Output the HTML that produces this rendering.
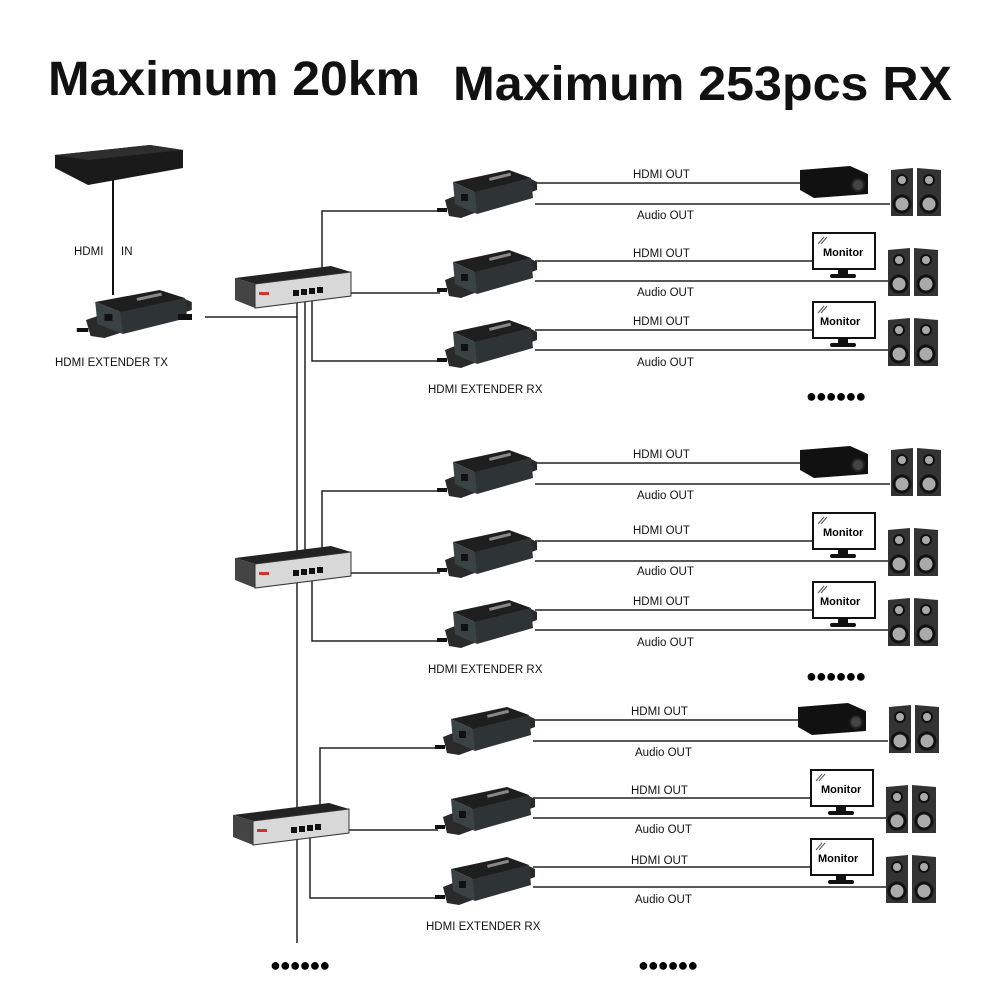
<!DOCTYPE html>
<html><head><meta charset="utf-8"><style>
html,body{margin:0;padding:0;background:#fff}
svg{display:block}
text{font-family:"Liberation Sans",sans-serif}
.t{font-size:11.5px;fill:#111}
.h{font-weight:bold;font-size:48px;fill:#111}
</style></head><body>
<svg width="1000" height="1000" viewBox="0 0 1000 1000">
<defs>
<g id="rx">
<polygon points="0,30 10,26 84,8 92,12 92,20 16,48 4,46" fill="#2a2a2a"/>
<polygon points="8,12 64,0 86,8 30,22" fill="#1e1e1e"/>
<polygon points="8,12 30,22 32,44 10,34" fill="#3b4244"/>
<polygon points="30,22 86,8 88,28 32,44" fill="#2e3436"/>
<rect x="16" y="24" width="7" height="7" fill="#111"/>
<rect x="44" y="8" width="22" height="3" fill="#888" transform="rotate(-14 44 8)"/>
<rect x="-8" y="38" width="10" height="4" fill="#111"/>
</g>
<g id="sw">
<polygon points="0,12 96,0 116,6 20,18" fill="#222"/>
<polygon points="0,12 20,18 20,42 0,34" fill="#444"/>
<polygon points="20,18 116,6 116,30 20,42" fill="#d8d8d8" stroke="#333" stroke-width="1"/>
<rect x="24" y="26" width="10" height="3" fill="#c33"/>
<rect x="58" y="24" width="6" height="6" fill="#111"/><rect x="66" y="23" width="6" height="6" fill="#111"/>
<rect x="74" y="22" width="6" height="6" fill="#111"/><rect x="82" y="21" width="6" height="6" fill="#111"/>
</g>
<g id="proj">
<polygon points="0,4 50,0 68,8 68,28 14,32 0,24" fill="#111"/>
<circle cx="58" cy="19" r="6" fill="#444" stroke="#222" stroke-width="2"/>
</g>
<g id="spk">
<polygon points="0,2 22,0 22,48 0,48" fill="#333"/>
<polygon points="26,0 50,2 50,48 26,48" fill="#333"/>
<circle cx="11" cy="12" r="5" fill="#aaa" stroke="#111" stroke-width="2"/>
<circle cx="11" cy="36" r="8" fill="#aaa" stroke="#111" stroke-width="3"/>
<circle cx="38" cy="12" r="5" fill="#aaa" stroke="#111" stroke-width="2"/>
<circle cx="38" cy="36" r="8" fill="#aaa" stroke="#111" stroke-width="3"/>
</g>
<g id="mon">
<rect x="1" y="1" width="62" height="36" fill="#fff" stroke="#111" stroke-width="2"/>
<path d="M6,12 L12,5 M9,12 L15,5" stroke="#555" stroke-width="1"/>
<rect x="26" y="38" width="10" height="4" fill="#111"/>
<rect x="18" y="42" width="26" height="4" rx="2" fill="#111"/>
</g>
</defs>

<text x="48" y="95" class="h" font-size="50" textLength="372" lengthAdjust="spacingAndGlyphs">Maximum 20km</text>
<text x="453" y="100" class="h" textLength="499" lengthAdjust="spacingAndGlyphs">Maximum 253pcs RX</text>

<!-- source -->
<polygon points="55,155 150,145 183,150 183,168 88,185 55,168" fill="#1a1a1a"/>
<polygon points="55,155 150,145 183,150 88,160" fill="#2e2e2e"/>
<line x1="113" y1="180" x2="113" y2="295" stroke="#111" stroke-width="2"/>
<text x="74" y="255" class="t">HDMI</text><text x="121" y="255" class="t">IN</text>
<use href="#rx" transform="translate(86,290) scale(1.15,1)"/>
<rect x="178" y="314" width="14" height="6" fill="#111"/>
<text x="55" y="366" class="t">HDMI EXTENDER TX</text>

<g fill="none" stroke="#222" stroke-width="1.5">
<polyline points="205,317 297,317 297,300"/>
<line x1="297" y1="317" x2="297" y2="943"/>
<line x1="305" y1="300" x2="305" y2="560"/>
</g>

<g id="grp1">
<g fill="none" stroke="#222" stroke-width="1.5">
<polyline points="322,285 322,211 440,211"/>
<line x1="340" y1="293" x2="440" y2="293"/>
<polyline points="312,300 312,361 440,361"/>
<line x1="535" y1="183" x2="800" y2="183"/><line x1="535" y1="204" x2="890" y2="204"/>
<line x1="535" y1="261" x2="812" y2="261"/><line x1="535" y1="281" x2="888" y2="281"/>
<line x1="535" y1="330" x2="812" y2="330"/><line x1="535" y1="350" x2="888" y2="350"/>
</g>
<use href="#sw" transform="translate(235,266)"/>
<use href="#rx" transform="translate(445,170)"/>
<use href="#rx" transform="translate(445,250)"/>
<use href="#rx" transform="translate(445,320)"/>
<use href="#proj" transform="translate(800,166)"/>
<use href="#mon" transform="translate(812,232)"/>
<use href="#mon" transform="translate(812,301)"/>
<use href="#spk" transform="translate(891,168)"/>
<use href="#spk" transform="translate(888,248)"/>
<use href="#spk" transform="translate(888,318)"/>
<text x="823" y="256" font-size="11" font-weight="bold">Monitor</text>
<text x="820" y="325" font-size="11" font-weight="bold">Monitor</text>
<text x="633" y="178" class="t">HDMI  OUT</text><text x="637" y="219" class="t">Audio OUT</text>
<text x="633" y="257" class="t">HDMI  OUT</text><text x="637" y="296" class="t">Audio OUT</text>
<text x="633" y="325" class="t">HDMI  OUT</text><text x="637" y="366" class="t">Audio OUT</text>
<text x="428" y="393" class="t">HDMI EXTENDER RX</text>
<text x="806" y="402" font-size="18" font-weight="bold" letter-spacing="-1">●●●●●●</text>
</g>

<g transform="translate(0,280)">
<g fill="none" stroke="#222" stroke-width="1.5">
<polyline points="322,285 322,211 440,211"/>
<line x1="340" y1="293" x2="440" y2="293"/>
<polyline points="312,300 312,361 440,361"/>
<line x1="535" y1="183" x2="800" y2="183"/><line x1="535" y1="204" x2="890" y2="204"/>
<line x1="535" y1="261" x2="812" y2="261"/><line x1="535" y1="281" x2="888" y2="281"/>
<line x1="535" y1="330" x2="812" y2="330"/><line x1="535" y1="350" x2="888" y2="350"/>
</g>
<use href="#sw" transform="translate(235,266)"/>
<use href="#rx" transform="translate(445,170)"/>
<use href="#rx" transform="translate(445,250)"/>
<use href="#rx" transform="translate(445,320)"/>
<use href="#proj" transform="translate(800,166)"/>
<use href="#mon" transform="translate(812,232)"/>
<use href="#mon" transform="translate(812,301)"/>
<use href="#spk" transform="translate(891,168)"/>
<use href="#spk" transform="translate(888,248)"/>
<use href="#spk" transform="translate(888,318)"/>
<text x="823" y="256" font-size="11" font-weight="bold">Monitor</text>
<text x="820" y="325" font-size="11" font-weight="bold">Monitor</text>
<text x="633" y="178" class="t">HDMI  OUT</text><text x="637" y="219" class="t">Audio OUT</text>
<text x="633" y="254" class="t">HDMI  OUT</text><text x="637" y="295" class="t">Audio OUT</text>
<text x="633" y="325" class="t">HDMI  OUT</text><text x="637" y="366" class="t">Audio OUT</text>
<text x="428" y="393" class="t">HDMI EXTENDER RX</text>
<text x="806" y="402" font-size="18" font-weight="bold" letter-spacing="-1">●●●●●●</text>
</g>

<g transform="translate(-2,537)">
<g fill="none" stroke="#222" stroke-width="1.5">
<polyline points="322,285 322,211 440,211"/>
<line x1="340" y1="293" x2="440" y2="293"/>
<polyline points="312,300 312,361 440,361"/>
<line x1="535" y1="183" x2="800" y2="183"/><line x1="535" y1="204" x2="890" y2="204"/>
<line x1="535" y1="261" x2="812" y2="261"/><line x1="535" y1="281" x2="888" y2="281"/>
<line x1="535" y1="330" x2="812" y2="330"/><line x1="535" y1="350" x2="888" y2="350"/>
</g>
<use href="#sw" transform="translate(235,266)"/>
<use href="#rx" transform="translate(445,170)"/>
<use href="#rx" transform="translate(445,250)"/>
<use href="#rx" transform="translate(445,320)"/>
<use href="#proj" transform="translate(800,166)"/>
<use href="#mon" transform="translate(812,232)"/>
<use href="#mon" transform="translate(812,301)"/>
<use href="#spk" transform="translate(891,168)"/>
<use href="#spk" transform="translate(888,248)"/>
<use href="#spk" transform="translate(888,318)"/>
<text x="823" y="256" font-size="11" font-weight="bold">Monitor</text>
<text x="820" y="325" font-size="11" font-weight="bold">Monitor</text>
<text x="633" y="178" class="t">HDMI  OUT</text><text x="637" y="219" class="t">Audio OUT</text>
<text x="633" y="257" class="t">HDMI  OUT</text><text x="637" y="296" class="t">Audio OUT</text>
<text x="633" y="327" class="t">HDMI  OUT</text><text x="637" y="366" class="t">Audio OUT</text>
<text x="428" y="393" class="t">HDMI EXTENDER RX</text>
</g>

<text x="270" y="971" font-size="18" font-weight="bold" letter-spacing="-1">●●●●●●</text>
<text x="638" y="971" font-size="18" font-weight="bold" letter-spacing="-1">●●●●●●</text>
</svg>
</body></html>
